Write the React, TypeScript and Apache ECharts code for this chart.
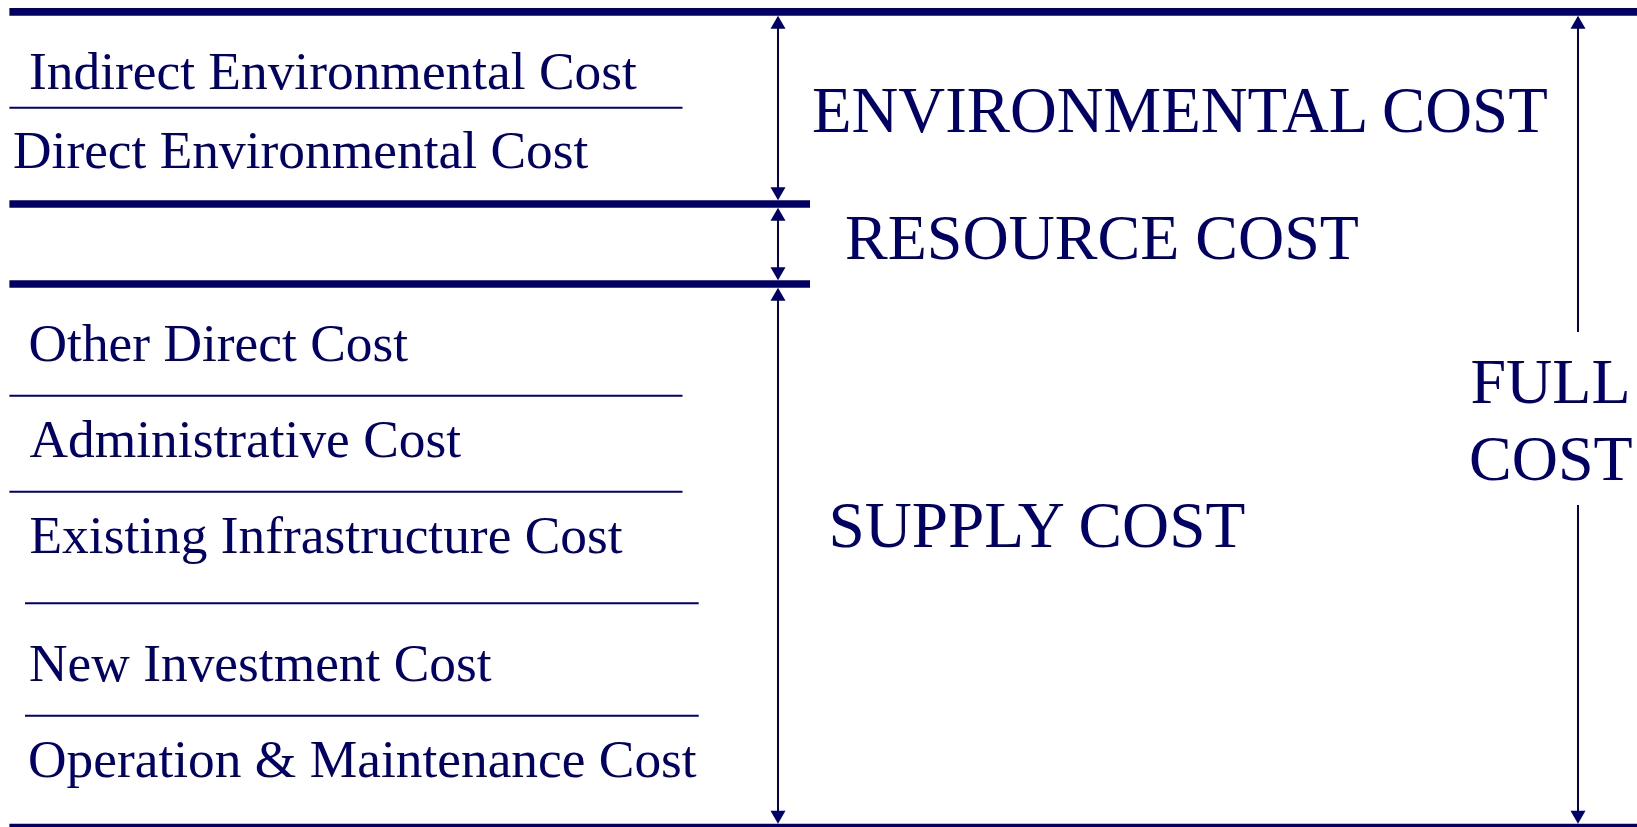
import React, { useEffect, useRef } from "react";
import * as echarts from "echarts";

// ---- content ----
const environmentalItems = ["Indirect Environmental Cost", "Direct Environmental Cost"];
const supplyItems = [
  "Other Direct Cost",
  "Administrative Cost",
  "Existing Infrastructure Cost",
  "New Investment Cost",
  "Operation & Maintenance Cost",
];
const costGroups = ["ENVIRONMENTAL COST", "RESOURCE COST", "SUPPLY COST"];
const totalLabel = ["FULL", "COST"];

// ---- layout (pixels) ----
const itemLeft = [29, 13, 28.5, 29.5, 29.5, 29, 28];
const itemBaseline = [89.3, 168.3, 360.7, 456.7, 552.7, 680.7, 776.7];
const groupLeft = [812, 845, 828.5];
const groupBaseline = [132, 259.5, 547.3];
const groupSize = [64.8, 64, 65.2];
const totalLeft = [1470.5, 1469];
const totalBaseline = [403.5, 480];

const thickLines = [
  [9.4, 1637, 11.8],
  [9.4, 810, 204],
  [9.4, 810, 284],
  [9.4, 1637, 827.5],
];
const thinLines = [
  [9.4, 682.5, 107.7],
  [9.4, 682.5, 395.7],
  [9.4, 682.5, 491.7],
  [25, 698.7, 603.3],
  [25, 698.7, 715.7],
];

const NAVY = "#000066";
const FONT = '"Liberation Serif", "Times New Roman", Times, serif';
const CENTRAL = 0.3375; // central-baseline offset of Liberation Serif (em)

function textEl(text: string, left: number, baseline: number, size: number) {
  return {
    type: "text",
    x: left,
    y: baseline - CENTRAL * size,
    silent: true,
    style: {
      text,
      fill: NAVY,
      fontSize: size,
      fontFamily: FONT,
      align: "left",
      verticalAlign: "middle",
    },
  };
}

function hline(x1: number, x2: number, y: number, w: number) {
  return {
    type: "line",
    silent: true,
    shape: { x1, y1: y, x2, y2: y },
    style: { stroke: NAVY, lineWidth: w },
  };
}

const HEAD_L = 13;
const HEAD_W = 7.5;

function vline(x: number, y1: number, y2: number) {
  return {
    type: "line",
    silent: true,
    shape: { x1: x, y1, x2: x, y2 },
    style: { stroke: NAVY, lineWidth: 2 },
  };
}
function headUp(x: number, tip: number) {
  return {
    type: "polygon",
    silent: true,
    shape: { points: [[x, tip], [x - HEAD_W, tip + HEAD_L], [x + HEAD_W, tip + HEAD_L]] },
    style: { fill: NAVY },
  };
}
function headDown(x: number, tip: number) {
  return {
    type: "polygon",
    silent: true,
    shape: { points: [[x, tip], [x - HEAD_W, tip - HEAD_L], [x + HEAD_W, tip - HEAD_L]] },
    style: { fill: NAVY },
  };
}
function dimArrow(x: number, top: number, bottom: number) {
  return [vline(x, top + 2, bottom - 2), headUp(x, top), headDown(x, bottom)];
}

export default function App() {
  const ref = useRef<HTMLDivElement>(null);

  useEffect(() => {
    if (!ref.current) return;
    const chart = echarts.init(ref.current, undefined, { renderer: "svg" });

    const items = [...environmentalItems, ...supplyItems];
    const elements: any[] = [];

    thickLines.forEach(([a, b, y]) => elements.push(hline(a, b, y, 7.7)));
    thinLines.forEach(([a, b, y]) => elements.push(hline(a, b, y, 2)));

    items.forEach((t, i) => elements.push(textEl(t, itemLeft[i], itemBaseline[i], 53.4)));
    costGroups.forEach((t, i) => elements.push(textEl(t, groupLeft[i], groupBaseline[i], groupSize[i])));
    totalLabel.forEach((t, i) => elements.push(textEl(t, totalLeft[i], totalBaseline[i], 64)));

    // dimension arrows
    const AX = 778;
    elements.push(...dimArrow(AX, 15.7, 200.2));
    elements.push(...dimArrow(AX, 207.8, 280.2));
    elements.push(...dimArrow(AX, 287.8, 823.7));

    const FX = 1578;
    elements.push(vline(FX, 17, 332));
    elements.push(headUp(FX, 15.7));
    elements.push(vline(FX, 505, 822));
    elements.push(headDown(FX, 823.7));

    chart.setOption({
      animation: false,
      backgroundColor: "#ffffff",
      graphic: { elements },
    });

    return () => chart.dispose();
  }, []);

  return (
    <div
      ref={ref}
      style={{ position: "fixed", left: 0, top: 0, width: 1637, height: 827, background: "#fff" }}
    />
  );
}
